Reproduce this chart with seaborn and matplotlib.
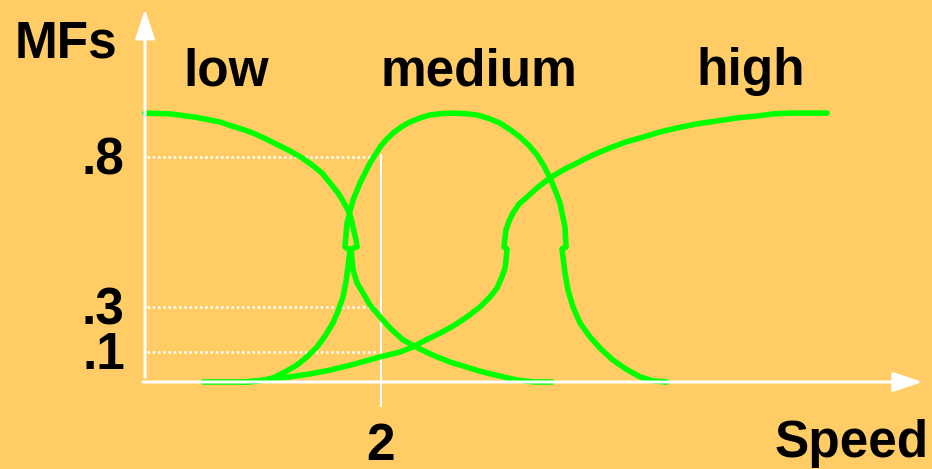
import pandas as pd
import matplotlib
matplotlib.use("Agg")
import matplotlib.pyplot as plt
import seaborn as sns

# membership curves (speed, membership degree)
low_speed = [0.000, 0.212, 0.424, 0.636, 0.737, 0.847, 0.915, 0.992, 1.059,
             1.127, 1.229, 1.331, 1.415, 1.500, 1.568, 1.636, 1.678, 1.720,
             1.746, 1.763, 1.788, 1.797, 1.746, 1.754, 1.763, 1.797, 1.847,
             1.907, 1.992, 2.085, 2.186, 2.331, 2.458, 2.585, 2.720, 2.864,
             3.008, 3.153, 3.305, 3.449]
low_mf = [0.996, 0.993, 0.981, 0.963, 0.948, 0.933, 0.922, 0.907, 0.893,
          0.878, 0.856, 0.830, 0.804, 0.774, 0.737, 0.700, 0.670, 0.637,
          0.607, 0.574, 0.526, 0.500, 0.493, 0.459, 0.415, 0.367, 0.330,
          0.285, 0.241, 0.196, 0.156, 0.122, 0.096, 0.074, 0.056, 0.037,
          0.022, 0.007, 0.000, 0.000]

medium_speed = [0.492, 0.678, 0.864, 0.975, 1.085, 1.186, 1.288, 1.373, 1.458,
                1.525, 1.593, 1.636, 1.678, 1.703, 1.720, 1.737, 1.695, 1.712,
                1.763, 1.822, 1.907, 1.992, 2.034, 2.102, 2.169, 2.246, 2.331,
                2.415, 2.508, 2.610, 2.712, 2.814, 2.915, 3.008, 3.093, 3.178,
                3.254, 3.322, 3.381, 3.432, 3.475, 3.517, 3.559, 3.568, 3.534,
                3.559, 3.585, 3.627, 3.686, 3.771, 3.864, 3.966, 4.076, 4.195,
                4.305, 4.424]
medium_mf = [0.000, 0.000, 0.000, 0.004, 0.015, 0.037, 0.063, 0.093, 0.130,
             0.170, 0.219, 0.263, 0.315, 0.370, 0.426, 0.489, 0.500, 0.589,
             0.674, 0.737, 0.811, 0.870, 0.893, 0.922, 0.944, 0.963, 0.978,
             0.989, 0.994, 0.996, 0.994, 0.989, 0.976, 0.959, 0.935, 0.907,
             0.876, 0.841, 0.800, 0.756, 0.711, 0.663, 0.574, 0.500, 0.493,
             0.404, 0.341, 0.278, 0.219, 0.167, 0.122, 0.081, 0.048, 0.019,
             0.004, 0.000]

high_speed = [0.831, 1.017, 1.229, 1.398, 1.568, 1.780, 1.992, 2.161, 2.271,
              2.381, 2.500, 2.610, 2.729, 2.839, 2.924, 2.983, 3.025, 3.051,
              3.059, 3.068, 3.042, 3.059, 3.085, 3.119, 3.169, 3.237, 3.331,
              3.432, 3.542, 3.661, 3.797, 3.941, 4.076, 4.220, 4.364, 4.508,
              4.678, 4.847, 5.017, 5.186, 5.322, 5.466, 5.619, 5.780]
high_mf = [0.000, 0.007, 0.019, 0.030, 0.044, 0.067, 0.093, 0.111, 0.130,
           0.156, 0.181, 0.207, 0.241, 0.278, 0.315, 0.348, 0.389, 0.422,
           0.452, 0.493, 0.500, 0.563, 0.596, 0.626, 0.659, 0.685, 0.722,
           0.756, 0.785, 0.811, 0.841, 0.867, 0.889, 0.907, 0.926, 0.941,
           0.956, 0.967, 0.978, 0.985, 0.993, 0.996, 0.996, 0.996]

set_names = ["low", "medium", "high"]
mf_ticks = [0.833, 0.278, 0.111]
mf_tick_labels = [".8", ".3", ".1"]
speed_tick = 2
speed_tick_label = "2"

curves = {"low": (low_speed, low_mf),
          "medium": (medium_speed, medium_mf),
          "high": (high_speed, high_mf)}
rows = []
for name in set_names:
    xs, ys = curves[name]
    for i, (x, y) in enumerate(zip(xs, ys)):
        rows.append({"set": name, "order": i, "speed": x, "mf": y})
df = pd.DataFrame(rows)

bg = "#FFCC66"
green = "#00FF00"
plt.rcParams["font.family"] = ["Liberation Sans", "DejaVu Sans"]

fig = plt.figure(figsize=(9.32, 4.69), dpi=100, facecolor=bg)
ax = fig.add_axes([0, 0, 1, 1])
ax.set_facecolor(bg)

# guide lines
ax.vlines(speed_tick, -0.093, 0.845, color="white", lw=1.5)
ax.hlines(mf_ticks, 0.02, 1.97, color="white", lw=1.8, linestyles=(0, (1, 1.1)))

# axes with arrows
arrow = dict(arrowstyle="-|>,head_length=1.8,head_width=0.6", color="white",
             lw=2.2, shrinkA=0, shrinkB=0)
ax.annotate("", xy=(0, 1.381), xytext=(0, 0.018), arrowprops=arrow)
ax.annotate("", xy=(6.59, 0), xytext=(-0.017, 0), arrowprops=arrow)

sns.lineplot(data=df, x="speed", y="mf", units="set", estimator=None,
             sort=False, color=green, ax=ax)
# make the curves thick with rounded ends like the sketch
for line in ax.lines:
    line.set_linewidth(4.0)
    line.set_solid_capstyle("round")
    line.set_solid_joinstyle("round")

ax.set_xlim(-145 / 118, 787 / 118)
ax.set_ylim(-87 / 270, 382 / 270)
ax.axis("off")

fs = 37
for t, lab in zip(mf_ticks, mf_tick_labels):
    ax.annotate(lab, xy=(0, t), xytext=(-14.5, -12.5), textcoords="offset points",
                ha="right", va="baseline", fontsize=fs, fontweight="bold")
ax.annotate(speed_tick_label, xy=(speed_tick, 0), xytext=(0, -56),
            textcoords="offset points", ha="center", va="baseline",
            fontsize=fs, fontweight="bold")


def px_text(x, y, s):
    fig.text(x / 932, 1 - y / 469, s, ha="left", va="baseline",
             fontsize=fs, fontweight="bold", color="black")


px_text(15, 58, "MFs")
px_text(183, 85, "low")
px_text(380, 85, "medium")
px_text(696, 85, "high")
px_text(775, 457, "Speed")

fig.savefig("out.png", dpi=100, facecolor=bg)
